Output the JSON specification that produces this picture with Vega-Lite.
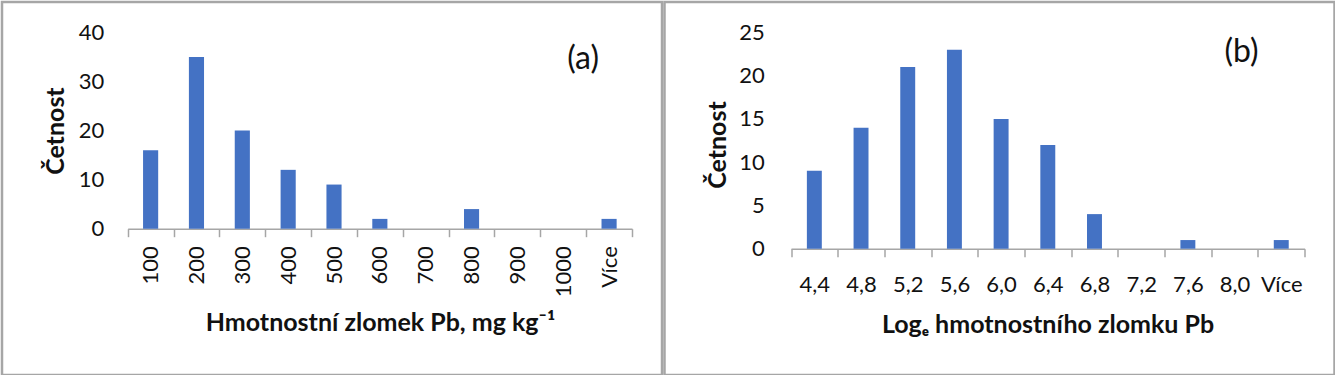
{
  "$schema": "https://vega.github.io/schema/vega-lite/v6.json",
  "padding": {"left": -11, "top": 0, "right": 0, "bottom": 0},
  "spacing": 2.5,
  "bounds": "flush",
  "background": "white",
  "config": {
    "font": "Lato",
    "view": {"stroke": "#A6A6A6", "strokeWidth": 2.5},
    "axis": {"labelFont": "Lato", "labelFontSize": 22, "labelColor": "#111111", "titleFont": "Lato", "titleFontSize": 25, "titleFontWeight": "bold", "titleColor": "#111111", "grid": false}
  },
  "datasets": {
    "a": [
      {"bin": "100", "count": 16}, {"bin": "200", "count": 35}, {"bin": "300", "count": 20},
      {"bin": "400", "count": 12}, {"bin": "500", "count": 9}, {"bin": "600", "count": 2},
      {"bin": "700", "count": 0}, {"bin": "800", "count": 4}, {"bin": "900", "count": 0},
      {"bin": "1000", "count": 0}, {"bin": "Více", "count": 2}
    ],
    "b": [
      {"bin": "4,4", "count": 9}, {"bin": "4,8", "count": 14}, {"bin": "5,2", "count": 21},
      {"bin": "5,6", "count": 23}, {"bin": "6,0", "count": 15}, {"bin": "6,4", "count": 12},
      {"bin": "6,8", "count": 4}, {"bin": "7,2", "count": 0}, {"bin": "7,6", "count": 1},
      {"bin": "8,0", "count": 0}, {"bin": "Více", "count": 1}
    ]
  },
  "hconcat": [
    {
      "width": 660,
      "height": 373,
      "data": {"name": "a"},
      "encoding": {
        "x": {
          "field": "bin", "type": "nominal", "sort": null,
          "scale": {"range": [125.7, 630], "paddingInner": 0, "paddingOuter": 0},
          "axis": {
            "title": "Hmotnostní zlomek Pb, mg kg⁻¹",
            "offset": -146.3, "labelAngle": 270, "labelPadding": 9,
            "tickBand": "extent", "tickSize": 8, "tickColor": "#A6A6A6", "tickWidth": 1.5,
            "domainColor": "#A6A6A6", "domainWidth": 1.5,
            "titleX": 378, "titleY": 102, "titleBaseline": "alphabetic", "titleAlign": "center"
          }
        }
      },
      "layer": [
        {
          "mark": {"type": "bar", "color": "#4472C4", "width": {"band": 0.33}},
          "encoding": {
            "y": {
              "field": "count", "type": "quantitative",
              "scale": {"domain": [0, 40], "range": [226.7, 30.5], "nice": false, "zero": true},
              "axis": {
                "title": "Četnost", "values": [0, 10, 20, 30, 40],
                "offset": -125.7, "domain": false, "ticks": false, "tickSize": 0, "labelPadding": 24,
                "titleX": -64.7, "titleY": 128.6, "titleBaseline": "alphabetic", "titleAngle": 270
              }
            }
          }
        },
        {
          "transform": [{"filter": "datum.bin === 'Více'"}],
          "mark": {"type": "text", "fontSize": 32, "font": "Lato", "color": "#111111", "align": "center", "baseline": "alphabetic", "dx": -26},
          "encoding": {
            "y": {"datum": 32.6},
            "text": {"value": "(a)"}
          }
        }
      ]
    },
    {
      "width": 670,
      "height": 373,
      "data": {"name": "b"},
      "encoding": {
        "x": {
          "field": "bin", "type": "nominal", "sort": null,
          "scale": {"range": [126.5, 640.1], "paddingInner": 0, "paddingOuter": 0},
          "axis": {
            "title": "Logₑ hmotnostního zlomku Pb",
            "offset": -126.3, "labelAngle": 0, "labelPadding": 18,
            "tickBand": "extent", "tickSize": 8, "tickColor": "#A6A6A6", "tickWidth": 1.5,
            "domainColor": "#A6A6A6", "domainWidth": 1.5,
            "titleX": 383, "titleY": 83.3, "titleBaseline": "alphabetic", "titleAlign": "center"
          }
        }
      },
      "layer": [
        {
          "mark": {"type": "bar", "color": "#4472C4", "width": {"band": 0.32}},
          "encoding": {
            "y": {
              "field": "count", "type": "quantitative",
              "scale": {"domain": [0, 25], "range": [246.7, 30.5], "nice": false, "zero": true},
              "axis": {
                "title": "Četnost", "values": [0, 5, 10, 15, 20, 25],
                "offset": -126.5, "domain": false, "ticks": false, "tickSize": 0, "labelPadding": 26.7,
                "titleX": -65.4, "titleY": 142.5, "titleBaseline": "alphabetic", "titleAngle": 270
              }
            }
          }
        },
        {
          "transform": [{"filter": "datum.bin === '8,0'"}],
          "mark": {"type": "text", "fontSize": 32, "font": "Lato", "color": "#111111", "align": "center", "baseline": "alphabetic", "dx": 7},
          "encoding": {
            "y": {"datum": 21.6},
            "text": {"value": "(b)"}
          }
        }
      ]
    }
  ]
}
